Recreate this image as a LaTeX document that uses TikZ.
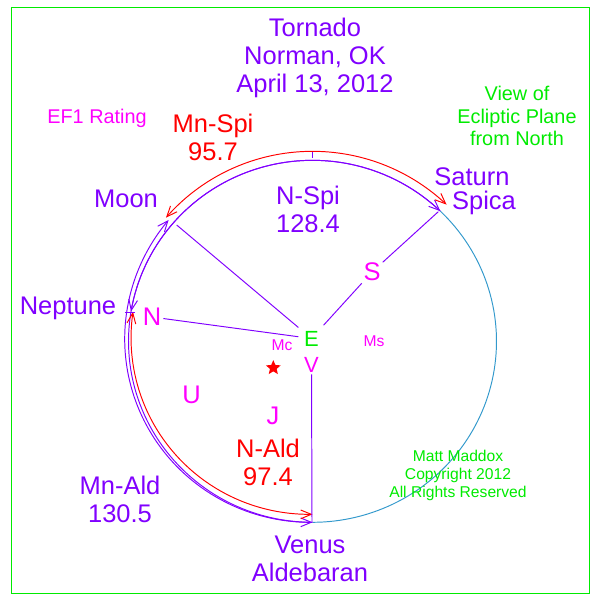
\documentclass[tikz,border=0pt]{standalone}
\usepackage{fontspec}
\setmainfont{Liberation Sans}
\usetikzlibrary{arrows.meta,shapes.geometric}
\definecolor{vio}{RGB}{128,0,255}
\definecolor{mag}{RGB}{255,0,255}
\definecolor{grn}{RGB}{0,235,0}
\definecolor{sky}{RGB}{51,153,204}

\begin{document}
\begin{tikzpicture}[x=0.02cm,y=-0.02cm,line width=0.55pt,
		>={Straight Barb[length=6pt,width=5pt]},
		big/.style={font=\fontsize{14.5}{15.9}\selectfont,align=center,inner sep=1pt},
		mid/.style={font=\fontsize{11.3}{12.75}\selectfont,align=center,inner sep=1pt},
		tiny/.style={font=\fontsize{8.9}{10.2}\selectfont,align=center,inner sep=1pt},
		ptlbl/.style={font=\fontsize{12.5}{14}\selectfont,inner sep=1pt}]
		\useasboundingbox (0,0) rectangle (600,600);
		\draw[draw=grn,line width=1.1pt] (11.5,7.5) rectangle (589.5,593.5);
		% ecliptic circle
		\draw[sky] plot[domain=-90:46,samples=80] ({312.5+184*cos(\x)},{341.3-181*sin(\x)});
		\draw[vio] plot[domain=46:270,samples=120] ({312.5+184*cos(\x)},{341.3-181*sin(\x)});
		% arcs between bodies
		\draw[vio,<->] plot[domain=46:170.5,samples=80] ({312.5+184*cos(\x)},{341.3-181*sin(\x)});
		\draw[red,<->] plot[domain=46:139.4,samples=80] ({312.5+193*cos(\x)},{341.3-190*sin(\x)});
		\draw[vio,<->] plot[domain=139.4:270,samples=100]
			({312.5+(189.5-5.5*(\x-139.4)/130.6)*cos(\x)},{341.3-(186.5-5.5*(\x-139.4)/130.6)*sin(\x)});
		\draw[red,<->] plot[domain=170.5:270,samples=80]
			({312.5+(182-6*(\x-170.5)/99.5)*cos(\x)},{341.3-(179-6*(\x-170.5)/99.5)*sin(\x)});
		\draw[vio] (312.5,152) -- (312.5,157.5);
		\draw[vio] (125,312) -- (135,312);
		% labels
		\node[big,text=vio] (title) at (315,58) {Tornado\\Norman, OK\\April 13, 2012};
		\node[mid,text=mag] (ef1) at (97,118) {EF1 Rating};
		\node[mid,text=grn] (view) at (517,116) {View of\\Ecliptic Plane\\from North};
		\node[big,text=red] (mnspi) at (213,137) {Mn-Spi\\95.7};
		\node[big,text=vio,inner sep=0pt,text depth=0pt] (saturn) at (472,177) {Saturn};
		\node[big,text=vio,inner sep=0pt] (spica) at (484,203) {Spica};
		\node[big,text=vio] (moon) at (126,199) {Moon};
		\node[big,text=vio] (nspi) at (308,209) {N-Spi\\128.4};
		\node[big,text=vio] (neptune) at (68,308) {Neptune};
		\node[big,text=mag] (S) at (372,272) {S};
		\node[big,text=mag] (N) at (152,317) {N};
		\node[ptlbl,text=grn,inner sep=3pt] (E) at (311.5,338.5) {E};
		\node[ptlbl,text=mag] (V) at (311.5,364.6) {V};
		\node[tiny,text=mag] (mc) at (282,345.4) {Mc};
		\node[tiny,text=mag] (ms) at (374,341) {Ms};
		\node[star,star points=5,star point ratio=2.2,fill=red,inner sep=0pt,minimum size=0.31cm] (sun) at (273.3,367.8) {};
		\node[big,text=mag] (U) at (191.5,395) {U};
		\node[big,text=mag] (J) at (273,415.4) {J};
		\node[big,text=red] (nald) at (268,462) {N-Ald\\97.4};
		\node[big,text=vio] (mnald) at (120,499.5) {Mn-Ald\\130.5};
		\node[tiny,text=grn] (copy) at (458,475.8) {Matt Maddox\\Copyright 2012\\All Rights Reserved};
		\node[big,text=vio] (venus) at (310,559) {Venus\\Aldebaran};
		% sight lines from earth
		\coordinate (moonpt) at (176.7,225);
		\coordinate (satpt) at (438.3,211.7);
		\coordinate (venpt) at (312,522);
		\draw[vio] (E) -- (moonpt);
		\draw[vio] (E) -- (S) -- (satpt);
		\draw[vio] (N) -- (E);
		\draw[vio] (V) -- (venpt);
\end{tikzpicture}
\end{document}
